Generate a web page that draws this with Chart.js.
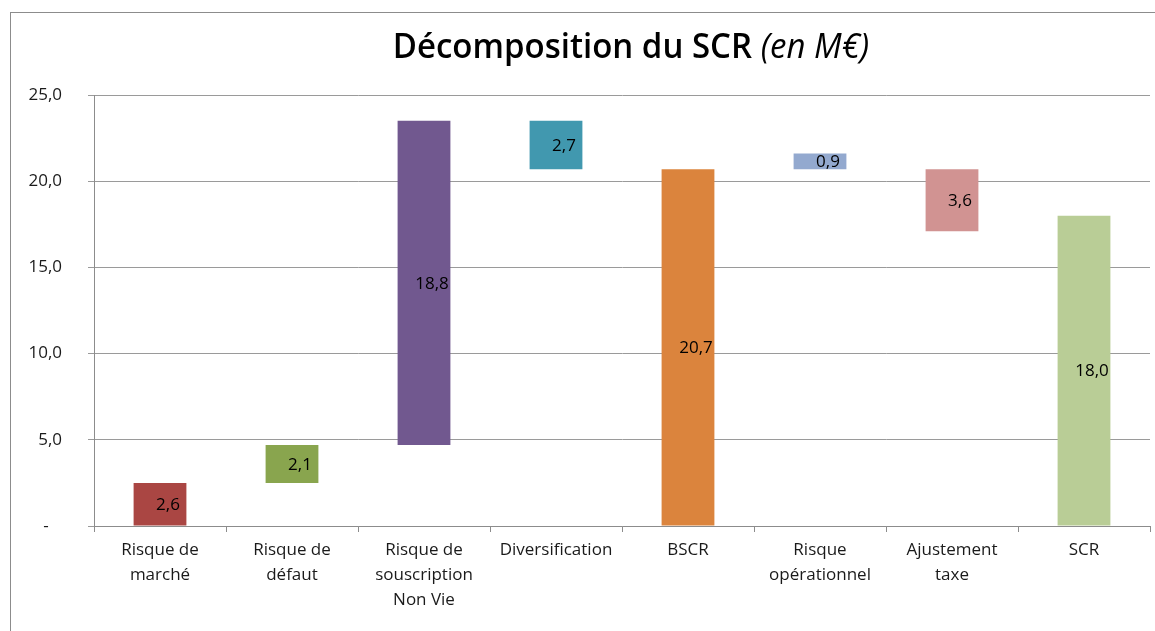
<!DOCTYPE html>
<html>
<head>
<meta charset="utf-8">
<script src="https://cdn.jsdelivr.net/npm/chart.js@4"></script>
<style>
  html, body { margin: 0; padding: 0; background: #fff; overflow: hidden; }
  #frame {
    position: absolute; left: 10px; top: 12px;
    width: 1160px; height: 640px;
    border: 1px solid #8c8c8c;
  }
  #title {
    position: absolute; left: 0; top: 22px; width: 1262px;
    text-align: center;
    font-family: "Open Sans", sans-serif; font-size: 33px; color: #000;
    transform-origin: 50% 50%; transform: scaleY(1.05);
  }
  #title b { font-weight: 600; }
  #title i { font-weight: normal; }
  #wrap { position: absolute; left: 10px; top: 12px; width: 1145px; height: 619px; }
</style>
</head>
<body>
<div id="frame"></div>
<div id="wrap"><canvas id="myChart"></canvas></div>
<div id="title"><b>Décomposition du SCR</b> <i>(en M€)</i></div>
<script>
    var categories = [
        ['Risque de', 'marché'],
        ['Risque de', 'défaut'],
        ['Risque de', 'souscription', 'Non Vie'],
        'Diversification',
        'BSCR',
        ['Risque', 'opérationnel'],
        ['Ajustement', 'taxe'],
        'SCR'
    ];
    var amounts = [2.6, 2.1, 18.8, 2.7, 20.7, 0.9, 3.6, 18.0];
    var lows = [0, 2.5, 4.7, 20.7, 0, 20.7, 17.1, 0];
    var highs = [2.5, 4.7, 23.5, 23.5, 20.7, 21.6, 20.7, 18.0];
    var colors = ['#AA4643', '#89A54E', '#71588F', '#4198AF', '#DB843D', '#93A9CF', '#D19392', '#B9CD96'];

    var fmt = function (v) { return v.toFixed(1).replace('.', ','); };

    var barLabels = {
        id: 'barLabels',
        afterDatasetsDraw: function (chart) {
            var ctx = chart.ctx;
            var meta = chart.getDatasetMeta(0);
            ctx.save();
            ctx.font = '17px "Open Sans", sans-serif';
            ctx.fillStyle = '#000';
            ctx.textAlign = 'center';
            ctx.textBaseline = 'middle';
            meta.data.forEach(function (bar, i) {
                ctx.fillText(fmt(amounts[i]), bar.x + 8, (bar.y + bar.base) / 2 + 1);
            });
            ctx.restore();
        }
    };

    var data = {
        labels: categories,
        datasets: [{
            label: 'SCR',
            data: highs.map(function (h, i) { return [lows[i], h]; }),
            backgroundColor: colors,
            borderWidth: 0,
            categoryPercentage: 1,
            barPercentage: 0.4
        }]
    };

    var config = {
        type: 'bar',
        data: data,
        plugins: [barLabels],
        options: {
            responsive: true,
            maintainAspectRatio: false,
            animation: false,
            layout: { padding: { top: 83, right: 5, left: 0, bottom: 0 } },
            plugins: {
                legend: { display: false },
                tooltip: { enabled: false }
            },
            scales: {
                x: {
                    afterFit: function (scale) { scale.height = 105; },
                    border: { color: '#8c8c8c' },
                    grid: {
                        offset: true,
                        drawOnChartArea: false,
                        tickLength: 6,
                        color: '#8c8c8c'
                    },
                    ticks: {
                        maxRotation: 0,
                        autoSkip: false,
                        padding: 6,
                        color: '#1a1a1a',
                        font: { family: '"Open Sans", sans-serif', size: 17, lineHeight: 1.47 }
                    }
                },
                y: {
                    min: 0,
                    max: 25,
                    afterFit: function (scale) { scale.width = 84; },
                    border: { color: '#8c8c8c' },
                    grid: { color: '#9a9a9a', tickLength: 6 },
                    ticks: {
                        stepSize: 5,
                        padding: 26,
                        color: '#1a1a1a',
                        font: { family: '"Open Sans", sans-serif', size: 17 },
                        callback: function (v) { return v === 0 ? '-   ' : fmt(v); }
                    }
                }
            }
        }
    };

    var myChart = new Chart(
        document.getElementById('myChart').getContext('2d'),
        config
    );
</script>
</body>
</html>
